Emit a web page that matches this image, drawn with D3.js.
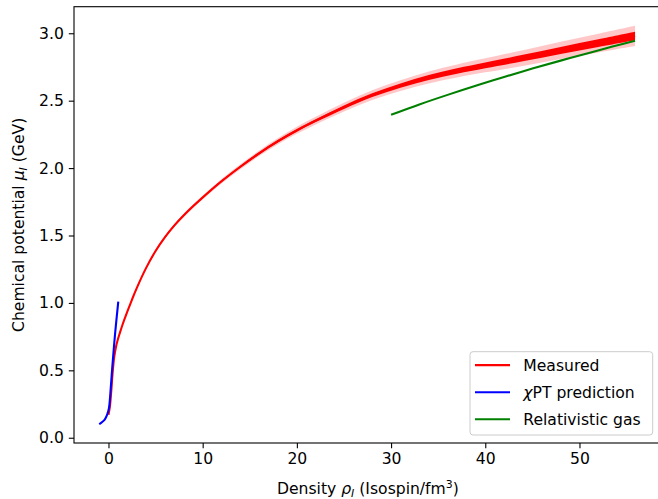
<!DOCTYPE html>
<html>
<head>
<meta charset="utf-8">
<script src="https://cdnjs.cloudflare.com/ajax/libs/d3/7.8.5/d3.min.js"></script>
<style>
  body, html { margin: 0; padding: 0; background: #fff; }
  svg { display: block; font-family: "DejaVu Sans", sans-serif; }
</style>
</head>
<body>
<div id="chart"></div>
<script>
    // measured curve
    var measRho = [0.0, 0.15, 0.3, 0.45, 0.6, 0.8, 1.0, 1.22, 1.5, 2.0, 2.5, 3.0, 4.0, 5.0, 6.0, 7.0, 8.0, 9.0, 10.0,
        12.0, 14.0, 16.0, 18.0, 20.0, 22.0, 25.0, 28.0, 31.0, 34.0, 37.0, 40.0, 44.0, 48.0, 52.0, 55.9];
    var measMu = [0.17, 0.23, 0.35, 0.49, 0.595, 0.675, 0.73, 0.78, 0.84, 0.935, 1.025, 1.11, 1.26, 1.385, 1.488, 1.575, 1.65, 1.718, 1.782,
        1.902, 2.01, 2.11, 2.2, 2.28, 2.352, 2.452, 2.541, 2.612, 2.672, 2.72, 2.762, 2.816, 2.873, 2.927, 2.98];
    // outer (pink) and inner (red) error half-widths
    var measErr = [0.004, 0.004, 0.004, 0.004, 0.005, 0.005, 0.005, 0.006, 0.006, 0.007, 0.007, 0.008, 0.009, 0.010, 0.011, 0.012, 0.013, 0.014, 0.015,
        0.017, 0.019, 0.021, 0.023, 0.026, 0.028, 0.032, 0.036, 0.040, 0.044, 0.048, 0.052, 0.058, 0.064, 0.069, 0.075];
    var measStat = [0.003, 0.003, 0.003, 0.003, 0.003, 0.003, 0.003, 0.004, 0.004, 0.004, 0.004, 0.004, 0.005, 0.005, 0.005, 0.006, 0.006, 0.006, 0.007,
        0.007, 0.008, 0.009, 0.010, 0.010, 0.011, 0.013, 0.014, 0.016, 0.018, 0.020, 0.021, 0.024, 0.026, 0.028, 0.031];

    // chiral perturbation theory prediction
    var chptRho = [-0.98, -0.7, -0.4, -0.15, 0.05, 0.2, 0.4, 0.7, 1.04];
    var chptMu = [0.10, 0.115, 0.135, 0.17, 0.22, 0.33, 0.52, 0.77, 1.01];

    // relativistic gas
    var gasRho = [30, 33, 36, 39.4, 42, 45, 48, 51, 53.5, 55.9];
    var gasMu = [2.395, 2.472, 2.543, 2.62, 2.676, 2.738, 2.797, 2.854, 2.901, 2.944];

    var xTicks = [0, 10, 20, 30, 40, 50];
    var yTicks = [0.0, 0.5, 1.0, 1.5, 2.0, 2.5, 3.0];

    var W = 658, H = 499;
    var mLeft = 74, mTop = 6.7, mBottom = 443, mRight = 661.8;
    var fs = 15.6, fsSub = 10.9;

    var svg = d3.select('#chart').append('svg')
        .attr('width', W)
        .attr('height', H);

    var x = d3.scaleLinear().domain([-3.66, 58.74]).range([mLeft, mRight]);
    var y = d3.scaleLinear().domain([-0.039, 3.197]).range([mBottom, mTop]);

    var meas = measRho.map(function (r, i) {
        return {r: r, m: measMu[i], e: measErr[i], s: measStat[i]};
    });

    var curve = d3.curveCatmullRom.alpha(0.5);
    var plot = svg.append('g');

    // pink band
    plot.append('path')
        .datum(meas)
        .attr('d', d3.area().curve(curve)
            .x(function (d) { return x(d.r); })
            .y0(function (d) { return y(d.m - d.e); })
            .y1(function (d) { return y(d.m + d.e); }))
        .attr('fill', '#ff0000')
        .attr('fill-opacity', 0.22);

    // red inner band
    plot.append('path')
        .datum(meas)
        .attr('d', d3.area().curve(curve)
            .x(function (d) { return x(d.r); })
            .y0(function (d) { return y(d.m - d.s); })
            .y1(function (d) { return y(d.m + d.s); }))
        .attr('fill', '#ff0000');

    var line = d3.line().curve(curve)
        .x(function (d) { return x(d[0]); })
        .y(function (d) { return y(d[1]); });

    plot.append('path')
        .datum(measRho.map(function (r, i) { return [r, measMu[i]]; }))
        .attr('d', line)
        .attr('fill', 'none')
        .attr('stroke', '#ff0000')
        .attr('stroke-width', 2.1);

    plot.append('path')
        .datum(chptRho.map(function (r, i) { return [r, chptMu[i]]; }))
        .attr('d', line)
        .attr('fill', 'none')
        .attr('stroke', '#0000ff')
        .attr('stroke-width', 2.1);

    plot.append('path')
        .datum(gasRho.map(function (r, i) { return [r, gasMu[i]]; }))
        .attr('d', line)
        .attr('fill', 'none')
        .attr('stroke', '#008000')
        .attr('stroke-width', 2.1);

    // axes
    var xAxis = svg.append('g')
        .attr('transform', 'translate(0,' + mBottom + ')')
        .call(d3.axisBottom(x).tickValues(xTicks).tickSize(5.2).tickPadding(4.8)
            .tickFormat(d3.format('d')));
    var yAxis = svg.append('g')
        .attr('transform', 'translate(' + mLeft + ',0)')
        .call(d3.axisLeft(y).tickValues(yTicks).tickSize(5.2).tickPadding(5)
            .tickFormat(d3.format('.1f')));

    [xAxis, yAxis].forEach(function (a) {
        a.selectAll('path.domain').remove();
        a.selectAll('.tick line').attr('stroke', '#000').attr('stroke-width', 1.1);
        a.selectAll('.tick text').attr('fill', '#000')
            .style('font-family', '"DejaVu Sans", sans-serif')
            .style('font-size', fs + 'px');
    });

    // spines
    svg.append('rect')
        .attr('x', mLeft).attr('y', mTop)
        .attr('width', mRight - mLeft).attr('height', mBottom - mTop)
        .attr('fill', 'none')
        .attr('stroke', '#000')
        .attr('stroke-width', 1.1);

    // axis labels
    var xl = svg.append('text')
        .attr('x', (mLeft + mRight) / 2)
        .attr('y', 493.5)
        .attr('text-anchor', 'middle')
        .style('font-size', fs + 'px');
    xl.append('tspan').text('Density ');
    xl.append('tspan').attr('font-style', 'italic').text('ρ');
    xl.append('tspan').attr('font-style', 'italic').attr('font-size', fsSub + 'px').attr('dy', 3.5).text('I');
    xl.append('tspan').attr('dy', -3.5).text(' (Isospin/fm');
    xl.append('tspan').attr('font-size', fsSub + 'px').attr('dy', -6).text('3');
    xl.append('tspan').attr('dy', 6).text(')');

    var yl = svg.append('text')
        .attr('transform', 'translate(23.5,' + (mTop + mBottom) / 2 + ') rotate(-90)')
        .attr('text-anchor', 'middle')
        .style('font-size', fs + 'px');
    yl.append('tspan').text('Chemical potential ');
    yl.append('tspan').attr('font-style', 'italic').text('μ');
    yl.append('tspan').attr('font-style', 'italic').attr('font-size', fsSub + 'px').attr('dy', 3.5).text('I');
    yl.append('tspan').attr('dy', -3.5).text(' (GeV)');

    // legend
    var legendItems = [
        {label: 'Measured', color: '#ff0000'},
        {label: 'χPT prediction', color: '#0000ff'},
        {label: 'Relativistic gas', color: '#008000'}
    ];
    var lg = svg.append('g').attr('transform', 'translate(470,351.7)');
    lg.append('rect')
        .attr('width', 182.7).attr('height', 83.3)
        .attr('rx', 3)
        .attr('fill', '#fff').attr('fill-opacity', 0.8)
        .attr('stroke', '#cccccc').attr('stroke-width', 1);
    var li = lg.selectAll('g.item').data(legendItems).enter().append('g')
        .attr('transform', function (d, i) { return 'translate(0,' + (13.4 + i * 27.1) + ')'; });
    li.append('line')
        .attr('x1', 5).attr('x2', 40)
        .attr('stroke', function (d) { return d.color; })
        .attr('stroke-width', 2.1);
    li.append('text')
        .attr('x', 53.3).attr('y', 5.6)
        .style('font-size', fs + 'px')
        .each(function (d) {
            var t = d3.select(this);
            if (d.label.charAt(0) === 'χ') {
                t.append('tspan').attr('font-style', 'italic').text('χ');
                t.append('tspan').text(d.label.slice(1));
            } else {
                t.text(d.label);
            }
        });
</script>
</body>
</html>
